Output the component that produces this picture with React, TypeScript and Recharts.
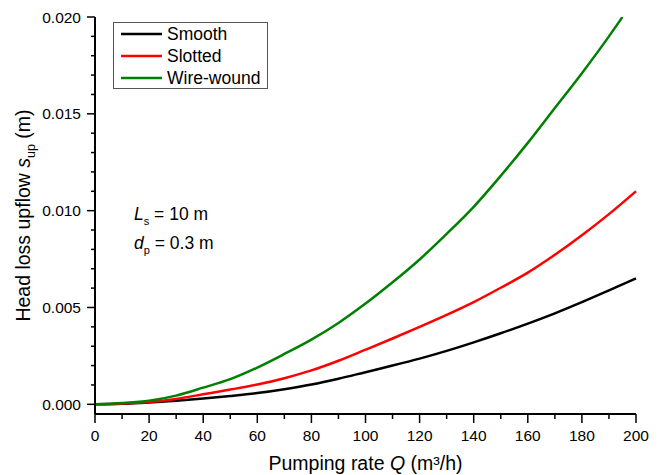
import React from "react";
import { LineChart, Line, XAxis, YAxis, Legend, Label } from "recharts";

// pumping rate Q (m³/h)
const qValues = [0, 10, 20, 30, 40, 50, 60, 70, 80, 90, 100, 110, 120, 130, 140, 150, 160, 170, 180, 190, 200];
// head loss upflow (m)
const smooth = [0, 0.00003, 0.0001, 0.00019, 0.0003, 0.00043, 0.00058, 0.00078, 0.00102, 0.00132, 0.00166, 0.002, 0.00236, 0.00276, 0.0032, 0.00367, 0.00417, 0.0047, 0.00528, 0.00588, 0.0065];
const slotted = [0, 0.00004, 0.00012, 0.00028, 0.00052, 0.00076, 0.00102, 0.00135, 0.00175, 0.00225, 0.00282, 0.0034, 0.004, 0.00462, 0.00528, 0.00602, 0.0068, 0.00772, 0.00873, 0.00982, 0.011];
// wire-wound leaves the plot at the top, so it stops at 195
const wireQ = [0, 10, 20, 30, 40, 50, 60, 70, 80, 90, 100, 110, 120, 130, 140, 150, 160, 170, 180, 190, 195];
const wireWound = [0, 0.00007, 0.00019, 0.00045, 0.00086, 0.0013, 0.0019, 0.0026, 0.00334, 0.0042, 0.0052, 0.0063, 0.00748, 0.0088, 0.0102, 0.0118, 0.0135, 0.0153, 0.0171, 0.019, 0.02];

const seriesNames = ["Smooth", "Slotted", "Wire-wound"];

const xTicks = [0, 10, 20, 30, 40, 50, 60, 70, 80, 90, 100, 110, 120, 130, 140, 150, 160, 170, 180, 190, 200];
const yTicks = Array.from({ length: 21 }, (_, i) => i * 0.001);

const smoothData = qValues.map((q, i) => ({ q, v: smooth[i] }));
const slottedData = qValues.map((q, i) => ({ q, v: slotted[i] }));
const wireData = wireQ.map((q, i) => ({ q, v: wireWound[i] }));

const FONT = "Arial, 'Liberation Sans', sans-serif";

function XTick(props: any) {
  const { x, y, payload } = props;
  const major = payload.value % 20 === 0;
  return (
    <g>
      <line x1={x} x2={x} y1={y} y2={y + (major ? 9 : 5)} stroke="#000" strokeWidth={1.5} />
      {major && (
        <text x={x} y={y + 27} textAnchor="middle" fontSize={15.5} fontFamily={FONT} fill="#000">
          {payload.value}
        </text>
      )}
    </g>
  );
}

function YTick(props: any) {
  const { x, y, payload } = props;
  const r = payload.value / 0.005;
  const major = Math.abs(r - Math.round(r)) < 1e-6;
  return (
    <g>
      <line x1={x - (major ? 8 : 4)} x2={x} y1={y} y2={y} stroke="#000" strokeWidth={1.5} />
      {major && (
        <text x={x - 14} y={y + 5.5} textAnchor="end" fontSize={15.5} fontFamily={FONT} fill="#000">
          {payload.value.toFixed(3)}
        </text>
      )}
    </g>
  );
}

function LegendBox(props: any) {
  const items = [...(props.payload || [])].sort(
    (a: any, b: any) => seriesNames.indexOf(a.value) - seriesNames.indexOf(b.value)
  );
  return (
    <div
      style={{
        border: "1px solid #555",
        background: "#fff",
        width: 155,
        height: 67,
        boxSizing: "border-box",
      }}
    >
      <svg width={153} height={65} style={{ display: "block" }}>
        {items.map((p: any, i: number) => (
          <g key={p.value}>
            <line x1={7} x2={48} y1={11 + i * 22} y2={11 + i * 22} stroke={p.color} strokeWidth={2.5} />
            <text x={53} y={17 + i * 22} fontSize={17.5} fontFamily={FONT} fill="#000">
              {p.value}
            </text>
          </g>
        ))}
      </svg>
    </div>
  );
}

function YLabel(props: any) {
  const { viewBox } = props;
  const cx = 30;
  const cy = viewBox.y + viewBox.height / 2;
  return (
    <text
      x={cx}
      y={cy}
      transform={`rotate(-90, ${cx}, ${cy})`}
      textAnchor="middle"
      fontSize={19.5}
      fontFamily={FONT}
      fill="#000"
    >
      Head loss upflow <tspan fontStyle="italic">s</tspan>
      <tspan dy={5} fontSize={12.5}>up</tspan>
      <tspan dy={-5}>  (m)</tspan>
    </text>
  );
}

export default function App() {
  return (
    <div style={{ position: "absolute", left: 0, top: 0, width: 660, height: 475, background: "#fff" }}>
      <LineChart width={660} height={475} margin={{ top: 17, right: 24, bottom: 0, left: 0 }}>
        <XAxis
          dataKey="q"
          type="number"
          domain={[0, 200]}
          ticks={xTicks}
          interval={0}
          tick={<XTick />}
          tickLine={false}
          tickSize={0}
          tickMargin={0}
          height={61}
          axisLine={{ stroke: "#000", strokeWidth: 2 }}
          allowDuplicatedCategory={false}
        >
          <Label
            content={() => (
              <text x={365.5} y={470} textAnchor="middle" fontSize={19.5} fontFamily={FONT} fill="#000">
                Pumping rate <tspan fontStyle="italic">Q</tspan> (m³/h)
              </text>
            )}
          />
        </XAxis>
        <YAxis
          type="number"
          domain={[-0.0005, 0.02]}
          ticks={yTicks}
          interval={0}
          tick={<YTick />}
          tickLine={false}
          tickSize={0}
          tickMargin={0}
          width={95}
          axisLine={{ stroke: "#000", strokeWidth: 2 }}
          allowDataOverflow
        >
          <Label content={<YLabel />} />
        </YAxis>
        <Legend
          layout="vertical"
          align="center"
          verticalAlign="middle"
          content={<LegendBox />}
          wrapperStyle={{ position: "absolute", left: 113, top: 22, width: 155, height: 67 }}
        />
        <Line data={smoothData} dataKey="v" name="Smooth" type="monotone" stroke="#000000" strokeWidth={2.5} dot={false} isAnimationActive={false} />
        <Line data={slottedData} dataKey="v" name="Slotted" type="monotone" stroke="#ff0000" strokeWidth={2.5} dot={false} isAnimationActive={false} />
        <Line data={wireData} dataKey="v" name="Wire-wound" type="monotone" stroke="#008000" strokeWidth={2.5} dot={false} isAnimationActive={false} />
      </LineChart>
      <svg width={660} height={475} style={{ position: "absolute", left: 0, top: 0, pointerEvents: "none" }}>
        <text x={134} y={220} fontSize={17.5} fontFamily={FONT} fill="#000">
          <tspan fontStyle="italic">L</tspan>
          <tspan dy={5} fontSize={11}>s</tspan>
          <tspan dy={-5}> = 10 m</tspan>
        </text>
        <text x={134} y={249} fontSize={17.5} fontFamily={FONT} fill="#000">
          <tspan fontStyle="italic">d</tspan>
          <tspan dy={5} fontSize={11}>p</tspan>
          <tspan dy={-5}> = 0.3 m</tspan>
        </text>
      </svg>
    </div>
  );
}
